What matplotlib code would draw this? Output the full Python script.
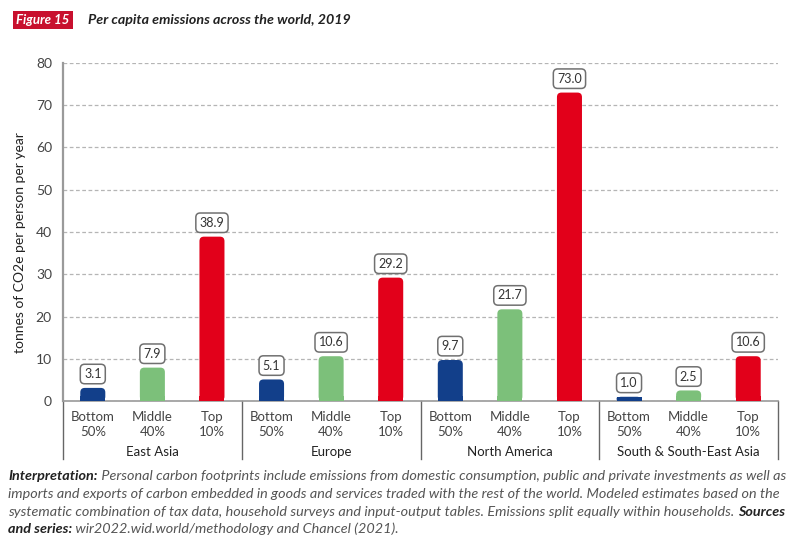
import matplotlib
matplotlib.use('Agg')
import matplotlib.pyplot as plt
from matplotlib.patches import FancyBboxPatch, Rectangle
import matplotlib.transforms as mtransforms

matplotlib.rcParams['font.family'] = ['Lato', 'DejaVu Sans']

regions = ['East Asia', 'Europe', 'North America', 'South & South-East Asia']
groups = ['Bottom\n50%', 'Middle\n40%', 'Top\n10%']
bottom50 = [3.1, 5.1, 9.7, 1.0]
middle40 = [7.9, 10.6, 21.7, 2.5]
top10 = [38.9, 29.2, 73.0, 10.6]
colors = ['#123f8a', '#7cc07a', '#e2001a']
y_ticks = [0, 10, 20, 30, 40, 50, 60, 70, 80]

values = []
bar_colors = []
labels = []
for i in range(len(regions)):
    for j, series in enumerate([bottom50, middle40, top10]):
        values.append(series[i])
        bar_colors.append(colors[j])
        labels.append(groups[j])
xs = list(range(len(values)))

fig = plt.figure(figsize=(7.98, 5.52), dpi=100)
ax_h = 338
ax = fig.add_axes([63 / 798, 1 - 401 / 552, 715 / 798, ax_h / 552])

bars = ax.bar(xs, values, width=0.42, color=bar_colors, zorder=3)

# rounded tops: swap each bar for a rounded box, bottom kept square
px_x = 715 / len(values)
px_y = ax_h / 80
radius = 4.5
for b in bars:
    x0, w, h = b.get_x(), b.get_width(), b.get_height()
    fc = b.get_facecolor()
    b.set_visible(False)
    ax.add_patch(FancyBboxPatch((x0, 0), w, h,
                                boxstyle='round,pad=0,rounding_size=%f' % (radius / px_x),
                                mutation_aspect=px_x / px_y,
                                fc=fc, ec='none', zorder=3))
    ax.add_patch(Rectangle((x0, 0), w, min(h, 1.2), fc=fc, ec='none', zorder=3))

for x, v in zip(xs, values):
    ax.annotate('%.1f' % v, (x, v), xytext=(0, 10), textcoords='offset points',
                ha='center', va='center', fontsize=9, color='#333333',
                bbox=dict(boxstyle='round,pad=0.3,rounding_size=0.35',
                          fc='white', ec='#707070', lw=1.1), zorder=5)

ax.set_xlim(-0.5, len(values) - 0.5)
ax.set_ylim(0, 80)
ax.set_yticks(y_ticks)
ax.set_yticklabels([str(t) for t in y_ticks], fontsize=10, color='#444444')
ax.tick_params(axis='y', length=0, pad=8)
ax.set_xticks(xs)
ax.set_xticklabels(labels, fontsize=9.5, color='#444444', linespacing=1.3)
ax.tick_params(axis='x', length=0, pad=7)
ax.set_ylabel('tonnes of CO2e per person per year', fontsize=10, color='#222222')
ax.yaxis.set_label_coords(-37 / 715, 0.47)

ax.grid(axis='y', color='#b5b5b5', linestyle=(0, (3, 2)), linewidth=0.9, zorder=0)
for s in ['top', 'right']:
    ax.spines[s].set_visible(False)
ax.spines['left'].set_color('#9a9a9a')
ax.spines['left'].set_linewidth(1.6)
ax.spines['bottom'].set_color('#9a9a9a')
ax.spines['bottom'].set_linewidth(1.2)

# region boxes under the axis
trans = mtransforms.blended_transform_factory(ax.transData, ax.transAxes)
for k in range(len(regions) + 1):
    xb = k * 3 - 0.5
    ax.plot([xb, xb], [0, -58 / ax_h], transform=trans, color='#666666',
            lw=1.0, clip_on=False)
for k, name in enumerate(regions):
    ax.text(k * 3 + 1, -51 / ax_h, name, transform=trans, ha='center', va='center',
            fontsize=9.5, color='#222222')

# header
fig.text(16 / 798, 1 - 20 / 552, 'Figure 15', fontsize=9.5, fontweight='bold',
         style='italic', color='white', va='center', ha='left',
         bbox=dict(boxstyle='square,pad=0.25', fc='#c8102e', ec='none'))
fig.text(88 / 798, 1 - 20 / 552, 'Per capita emissions across the world, 2019',
         fontsize=10.3, fontweight='bold', style='italic', color='#222222',
         va='center', ha='left')

# caption, bold runs chained after the previous piece of text
caption = [
    [('Interpretation:', True),
     (' Personal carbon footprints include emissions from domestic consumption, '
      'public and private investments as well as', False)],
    [('imports and exports of carbon embedded in goods and services traded with '
      'the rest of the world. Modeled estimates based on the', False)],
    [('systematic combination of tax data, household surveys and input-output '
      'tables. Emissions split equally within households. ', False), ('Sources', True)],
    [('and series:', True), (' wir2022.wid.world/methodology and Chancel (2021).', False)],
]
line_y = [476, 494, 512, 529]
for parts, yy in zip(caption, line_y):
    prev = None
    for txt, bold in parts:
        kw = dict(fontsize=10.4, style='italic', va='center', ha='left',
                  color='#222222' if bold else '#555555',
                  fontweight='bold' if bold else 'normal')
        if prev is None:
            prev = fig.text(8 / 798, 1 - yy / 552, txt, **kw)
        else:
            prev = ax.annotate(txt, xy=(1, 0.5), xycoords=prev,
                               annotation_clip=False, **kw)

fig.savefig('out.png', dpi=100)
